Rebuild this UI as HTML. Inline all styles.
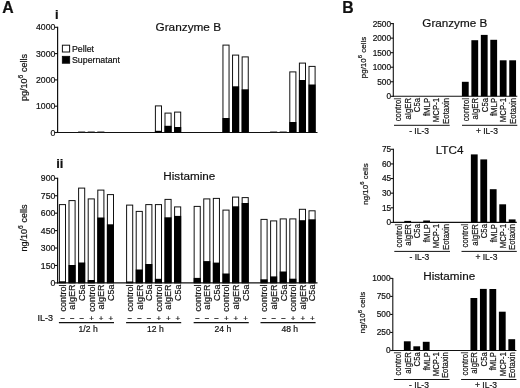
<!DOCTYPE html>
<html><head><meta charset="utf-8"><title>Figure</title>
<style>
html,body{margin:0;padding:0;background:#fff;}
body{width:520px;height:388px;overflow:hidden;font-family:'Liberation Sans', sans-serif;}
svg{display:block;filter:blur(0.45px);}
svg text{font-family:'Liberation Sans', sans-serif;fill:#111;stroke:#111;stroke-width:0.2px;}
</style></head>
<body>
<svg width="520" height="388" viewBox="0 0 520 388">
<rect x="0" y="0" width="520" height="388" fill="#fff"/>
<text x="2.30" y="13.40" font-size="15.8" text-anchor="start" font-weight="bold">A</text>
<text x="55.10" y="18.50" font-size="13" text-anchor="start" font-weight="bold">i</text>
<text x="56.20" y="167.60" font-size="13" text-anchor="start" font-weight="bold">ii</text>
<line x1="57.60" y1="26.80" x2="57.60" y2="133.00" stroke="#111" stroke-width="1.2"/>
<line x1="57.10" y1="132.50" x2="317.50" y2="132.50" stroke="#111" stroke-width="1.2"/>
<line x1="54.60" y1="27.30" x2="57.60" y2="27.30" stroke="#111" stroke-width="1.1"/>
<text x="55.30" y="30.40" font-size="8.7" text-anchor="end" font-weight="normal">4000</text>
<line x1="54.60" y1="53.60" x2="57.60" y2="53.60" stroke="#111" stroke-width="1.1"/>
<text x="55.30" y="56.70" font-size="8.7" text-anchor="end" font-weight="normal">3000</text>
<line x1="54.60" y1="79.90" x2="57.60" y2="79.90" stroke="#111" stroke-width="1.1"/>
<text x="55.30" y="83.00" font-size="8.7" text-anchor="end" font-weight="normal">2000</text>
<line x1="54.60" y1="106.20" x2="57.60" y2="106.20" stroke="#111" stroke-width="1.1"/>
<text x="55.30" y="109.30" font-size="8.7" text-anchor="end" font-weight="normal">1000</text>
<line x1="54.60" y1="132.50" x2="57.60" y2="132.50" stroke="#111" stroke-width="1.1"/>
<text x="55.30" y="135.60" font-size="8.7" text-anchor="end" font-weight="normal">0</text>
<text x="26.80" y="77.50" font-size="9.0" text-anchor="middle" font-weight="normal" transform="rotate(-90 26.80 77.50)">pg/10<tspan dy="-4.0" font-size="6.8">6</tspan><tspan dy="4.0"> cells</tspan></text>
<text x="188.30" y="30.90" font-size="11.8" text-anchor="middle" font-weight="normal">Granzyme B</text>
<rect x="62.40" y="45.20" width="7.20" height="6.80" fill="#fff" stroke="#111" stroke-width="1.0"/>
<rect x="62.40" y="56.40" width="7.20" height="6.80" fill="#000" stroke="#111" stroke-width="1.0"/>
<text x="72.00" y="51.90" font-size="8.8" text-anchor="start" font-weight="normal">Pellet</text>
<text x="72.00" y="62.90" font-size="8.8" text-anchor="start" font-weight="normal">Supernatant</text>
<rect x="155.40" y="105.90" width="6.10" height="26.60" fill="#fff" stroke="#111" stroke-width="1.0"/>
<rect x="154.90" y="130.80" width="7.10" height="1.70" fill="#000"/>
<rect x="165.00" y="113.10" width="6.10" height="19.40" fill="#fff" stroke="#111" stroke-width="1.0"/>
<rect x="164.50" y="125.80" width="7.10" height="6.70" fill="#000"/>
<rect x="174.60" y="112.10" width="6.10" height="20.40" fill="#fff" stroke="#111" stroke-width="1.0"/>
<rect x="174.10" y="127.00" width="7.10" height="5.50" fill="#000"/>
<rect x="222.95" y="45.10" width="6.10" height="87.40" fill="#fff" stroke="#111" stroke-width="1.0"/>
<rect x="222.45" y="118.00" width="7.10" height="14.50" fill="#000"/>
<rect x="232.55" y="55.10" width="6.10" height="77.40" fill="#fff" stroke="#111" stroke-width="1.0"/>
<rect x="232.05" y="86.30" width="7.10" height="46.20" fill="#000"/>
<rect x="242.15" y="56.90" width="6.10" height="75.60" fill="#fff" stroke="#111" stroke-width="1.0"/>
<rect x="241.65" y="89.30" width="7.10" height="43.20" fill="#000"/>
<rect x="289.80" y="71.90" width="6.10" height="60.60" fill="#fff" stroke="#111" stroke-width="1.0"/>
<rect x="289.30" y="122.00" width="7.10" height="10.50" fill="#000"/>
<rect x="299.40" y="63.10" width="6.10" height="69.40" fill="#fff" stroke="#111" stroke-width="1.0"/>
<rect x="298.90" y="80.00" width="7.10" height="52.50" fill="#000"/>
<rect x="309.00" y="66.40" width="6.10" height="66.10" fill="#fff" stroke="#111" stroke-width="1.0"/>
<rect x="308.50" y="84.50" width="7.10" height="48.00" fill="#000"/>
<rect x="78.10" y="131.30" width="7.1" height="1.2" fill="#222" opacity="0.7"/>
<rect x="87.70" y="131.30" width="7.1" height="1.2" fill="#222" opacity="0.7"/>
<rect x="97.30" y="131.30" width="7.1" height="1.2" fill="#222" opacity="0.7"/>
<rect x="270.10" y="131.30" width="7.1" height="1.2" fill="#222" opacity="0.7"/>
<rect x="279.70" y="131.30" width="7.1" height="1.2" fill="#222" opacity="0.7"/>
<line x1="57.60" y1="177.80" x2="57.60" y2="283.40" stroke="#111" stroke-width="1.2"/>
<line x1="57.10" y1="282.90" x2="317.50" y2="282.90" stroke="#111" stroke-width="1.2"/>
<line x1="54.60" y1="178.30" x2="57.60" y2="178.30" stroke="#111" stroke-width="1.1"/>
<text x="55.30" y="181.40" font-size="8.7" text-anchor="end" font-weight="normal">900</text>
<line x1="54.60" y1="195.73" x2="57.60" y2="195.73" stroke="#111" stroke-width="1.1"/>
<text x="55.30" y="198.83" font-size="8.7" text-anchor="end" font-weight="normal">750</text>
<line x1="54.60" y1="213.17" x2="57.60" y2="213.17" stroke="#111" stroke-width="1.1"/>
<text x="55.30" y="216.27" font-size="8.7" text-anchor="end" font-weight="normal">600</text>
<line x1="54.60" y1="230.60" x2="57.60" y2="230.60" stroke="#111" stroke-width="1.1"/>
<text x="55.30" y="233.70" font-size="8.7" text-anchor="end" font-weight="normal">450</text>
<line x1="54.60" y1="248.03" x2="57.60" y2="248.03" stroke="#111" stroke-width="1.1"/>
<text x="55.30" y="251.13" font-size="8.7" text-anchor="end" font-weight="normal">300</text>
<line x1="54.60" y1="265.47" x2="57.60" y2="265.47" stroke="#111" stroke-width="1.1"/>
<text x="55.30" y="268.57" font-size="8.7" text-anchor="end" font-weight="normal">150</text>
<line x1="54.60" y1="282.90" x2="57.60" y2="282.90" stroke="#111" stroke-width="1.1"/>
<text x="55.30" y="286.00" font-size="8.7" text-anchor="end" font-weight="normal">0</text>
<text x="26.80" y="228.00" font-size="9.0" text-anchor="middle" font-weight="normal" transform="rotate(-90 26.80 228.00)">ng/10<tspan dy="-4.0" font-size="6.8">6</tspan><tspan dy="4.0"> cells</tspan></text>
<text x="189.30" y="179.60" font-size="11.7" text-anchor="middle" font-weight="normal">Histamine</text>
<rect x="59.40" y="204.60" width="6.10" height="78.30" fill="#fff" stroke="#111" stroke-width="1.0"/>
<rect x="58.90" y="281.30" width="7.10" height="1.60" fill="#000"/>
<text x="65.85" y="284.60" font-size="9.0" text-anchor="end" font-weight="normal" transform="rotate(-90 65.85 284.60)">control</text>
<text x="62.75" y="320.90" font-size="8" text-anchor="middle" font-weight="normal">&#8722;</text>
<rect x="69.00" y="200.60" width="6.10" height="82.30" fill="#fff" stroke="#111" stroke-width="1.0"/>
<rect x="68.50" y="265.00" width="7.10" height="17.90" fill="#000"/>
<text x="75.45" y="284.60" font-size="9.0" text-anchor="end" font-weight="normal" transform="rotate(-90 75.45 284.60)">aIgER</text>
<text x="72.35" y="320.90" font-size="8" text-anchor="middle" font-weight="normal">&#8722;</text>
<rect x="78.60" y="188.10" width="6.10" height="94.80" fill="#fff" stroke="#111" stroke-width="1.0"/>
<rect x="78.10" y="262.50" width="7.10" height="20.40" fill="#000"/>
<text x="85.05" y="284.60" font-size="9.0" text-anchor="end" font-weight="normal" transform="rotate(-90 85.05 284.60)">C5a</text>
<text x="81.95" y="320.90" font-size="8" text-anchor="middle" font-weight="normal">&#8722;</text>
<rect x="88.20" y="198.90" width="6.10" height="84.00" fill="#fff" stroke="#111" stroke-width="1.0"/>
<rect x="87.70" y="280.00" width="7.10" height="2.90" fill="#000"/>
<text x="94.65" y="284.60" font-size="9.0" text-anchor="end" font-weight="normal" transform="rotate(-90 94.65 284.60)">control</text>
<text x="91.55" y="320.90" font-size="8" text-anchor="middle" font-weight="normal">+</text>
<rect x="97.80" y="190.10" width="6.10" height="92.80" fill="#fff" stroke="#111" stroke-width="1.0"/>
<rect x="97.30" y="217.50" width="7.10" height="65.40" fill="#000"/>
<text x="104.25" y="284.60" font-size="9.0" text-anchor="end" font-weight="normal" transform="rotate(-90 104.25 284.60)">aIgER</text>
<text x="101.15" y="320.90" font-size="8" text-anchor="middle" font-weight="normal">+</text>
<rect x="107.40" y="194.60" width="6.10" height="88.30" fill="#fff" stroke="#111" stroke-width="1.0"/>
<rect x="106.90" y="224.30" width="7.10" height="58.60" fill="#000"/>
<text x="113.85" y="284.60" font-size="9.0" text-anchor="end" font-weight="normal" transform="rotate(-90 113.85 284.60)">C5a</text>
<text x="110.75" y="320.90" font-size="8" text-anchor="middle" font-weight="normal">+</text>
<line x1="58.90" y1="322.60" x2="114.00" y2="322.60" stroke="#111" stroke-width="1.1"/>
<text x="88.15" y="332.30" font-size="8.6" text-anchor="middle" font-weight="normal">1/2 h</text>
<rect x="126.60" y="205.10" width="6.10" height="77.80" fill="#fff" stroke="#111" stroke-width="1.0"/>
<rect x="126.10" y="281.50" width="7.10" height="1.40" fill="#000"/>
<text x="133.05" y="284.60" font-size="9.0" text-anchor="end" font-weight="normal" transform="rotate(-90 133.05 284.60)">control</text>
<text x="129.95" y="320.90" font-size="8" text-anchor="middle" font-weight="normal">&#8722;</text>
<rect x="136.20" y="211.40" width="6.10" height="71.50" fill="#fff" stroke="#111" stroke-width="1.0"/>
<rect x="135.70" y="269.50" width="7.10" height="13.40" fill="#000"/>
<text x="142.65" y="284.60" font-size="9.0" text-anchor="end" font-weight="normal" transform="rotate(-90 142.65 284.60)">aIgER</text>
<text x="139.55" y="320.90" font-size="8" text-anchor="middle" font-weight="normal">&#8722;</text>
<rect x="145.80" y="204.60" width="6.10" height="78.30" fill="#fff" stroke="#111" stroke-width="1.0"/>
<rect x="145.30" y="264.00" width="7.10" height="18.90" fill="#000"/>
<text x="152.25" y="284.60" font-size="9.0" text-anchor="end" font-weight="normal" transform="rotate(-90 152.25 284.60)">C5a</text>
<text x="149.15" y="320.90" font-size="8" text-anchor="middle" font-weight="normal">&#8722;</text>
<rect x="155.40" y="204.60" width="6.10" height="78.30" fill="#fff" stroke="#111" stroke-width="1.0"/>
<rect x="154.90" y="278.80" width="7.10" height="4.10" fill="#000"/>
<text x="161.85" y="284.60" font-size="9.0" text-anchor="end" font-weight="normal" transform="rotate(-90 161.85 284.60)">control</text>
<text x="158.75" y="320.90" font-size="8" text-anchor="middle" font-weight="normal">+</text>
<rect x="165.00" y="199.40" width="6.10" height="83.50" fill="#fff" stroke="#111" stroke-width="1.0"/>
<rect x="164.50" y="217.30" width="7.10" height="65.60" fill="#000"/>
<text x="171.45" y="284.60" font-size="9.0" text-anchor="end" font-weight="normal" transform="rotate(-90 171.45 284.60)">aIgER</text>
<text x="168.35" y="320.90" font-size="8" text-anchor="middle" font-weight="normal">+</text>
<rect x="174.60" y="206.90" width="6.10" height="76.00" fill="#fff" stroke="#111" stroke-width="1.0"/>
<rect x="174.10" y="215.90" width="7.10" height="67.00" fill="#000"/>
<text x="181.05" y="284.60" font-size="9.0" text-anchor="end" font-weight="normal" transform="rotate(-90 181.05 284.60)">C5a</text>
<text x="177.95" y="320.90" font-size="8" text-anchor="middle" font-weight="normal">+</text>
<line x1="126.10" y1="322.60" x2="181.20" y2="322.60" stroke="#111" stroke-width="1.1"/>
<text x="155.35" y="332.30" font-size="8.6" text-anchor="middle" font-weight="normal">12 h</text>
<rect x="194.15" y="206.40" width="6.10" height="76.50" fill="#fff" stroke="#111" stroke-width="1.0"/>
<rect x="193.65" y="277.90" width="7.10" height="5.00" fill="#000"/>
<text x="200.60" y="284.60" font-size="9.0" text-anchor="end" font-weight="normal" transform="rotate(-90 200.60 284.60)">control</text>
<text x="197.50" y="320.90" font-size="8" text-anchor="middle" font-weight="normal">&#8722;</text>
<rect x="203.75" y="198.90" width="6.10" height="84.00" fill="#fff" stroke="#111" stroke-width="1.0"/>
<rect x="203.25" y="261.10" width="7.10" height="21.80" fill="#000"/>
<text x="210.20" y="284.60" font-size="9.0" text-anchor="end" font-weight="normal" transform="rotate(-90 210.20 284.60)">aIgER</text>
<text x="207.10" y="320.90" font-size="8" text-anchor="middle" font-weight="normal">&#8722;</text>
<rect x="213.35" y="198.40" width="6.10" height="84.50" fill="#fff" stroke="#111" stroke-width="1.0"/>
<rect x="212.85" y="262.60" width="7.10" height="20.30" fill="#000"/>
<text x="219.80" y="284.60" font-size="9.0" text-anchor="end" font-weight="normal" transform="rotate(-90 219.80 284.60)">C5a</text>
<text x="216.70" y="320.90" font-size="8" text-anchor="middle" font-weight="normal">&#8722;</text>
<rect x="222.95" y="210.10" width="6.10" height="72.80" fill="#fff" stroke="#111" stroke-width="1.0"/>
<rect x="222.45" y="273.50" width="7.10" height="9.40" fill="#000"/>
<text x="229.40" y="284.60" font-size="9.0" text-anchor="end" font-weight="normal" transform="rotate(-90 229.40 284.60)">control</text>
<text x="226.30" y="320.90" font-size="8" text-anchor="middle" font-weight="normal">+</text>
<rect x="232.55" y="197.10" width="6.10" height="85.80" fill="#fff" stroke="#111" stroke-width="1.0"/>
<rect x="232.05" y="206.30" width="7.10" height="76.60" fill="#000"/>
<text x="239.00" y="284.60" font-size="9.0" text-anchor="end" font-weight="normal" transform="rotate(-90 239.00 284.60)">aIgER</text>
<text x="235.90" y="320.90" font-size="8" text-anchor="middle" font-weight="normal">+</text>
<rect x="242.15" y="197.60" width="6.10" height="85.30" fill="#fff" stroke="#111" stroke-width="1.0"/>
<rect x="241.65" y="203.00" width="7.10" height="79.90" fill="#000"/>
<text x="248.60" y="284.60" font-size="9.0" text-anchor="end" font-weight="normal" transform="rotate(-90 248.60 284.60)">C5a</text>
<text x="245.50" y="320.90" font-size="8" text-anchor="middle" font-weight="normal">+</text>
<line x1="193.65" y1="322.60" x2="248.75" y2="322.60" stroke="#111" stroke-width="1.1"/>
<text x="222.90" y="332.30" font-size="8.6" text-anchor="middle" font-weight="normal">24 h</text>
<rect x="261.00" y="219.40" width="6.10" height="63.50" fill="#fff" stroke="#111" stroke-width="1.0"/>
<rect x="260.50" y="279.30" width="7.10" height="3.60" fill="#000"/>
<text x="267.45" y="284.60" font-size="9.0" text-anchor="end" font-weight="normal" transform="rotate(-90 267.45 284.60)">control</text>
<text x="264.35" y="320.90" font-size="8" text-anchor="middle" font-weight="normal">&#8722;</text>
<rect x="270.60" y="220.90" width="6.10" height="62.00" fill="#fff" stroke="#111" stroke-width="1.0"/>
<rect x="270.10" y="276.40" width="7.10" height="6.50" fill="#000"/>
<text x="277.05" y="284.60" font-size="9.0" text-anchor="end" font-weight="normal" transform="rotate(-90 277.05 284.60)">aIgER</text>
<text x="273.95" y="320.90" font-size="8" text-anchor="middle" font-weight="normal">&#8722;</text>
<rect x="280.20" y="218.90" width="6.10" height="64.00" fill="#fff" stroke="#111" stroke-width="1.0"/>
<rect x="279.70" y="271.50" width="7.10" height="11.40" fill="#000"/>
<text x="286.65" y="284.60" font-size="9.0" text-anchor="end" font-weight="normal" transform="rotate(-90 286.65 284.60)">C5a</text>
<text x="283.55" y="320.90" font-size="8" text-anchor="middle" font-weight="normal">&#8722;</text>
<rect x="289.80" y="218.90" width="6.10" height="64.00" fill="#fff" stroke="#111" stroke-width="1.0"/>
<rect x="289.30" y="278.70" width="7.10" height="4.20" fill="#000"/>
<text x="296.25" y="284.60" font-size="9.0" text-anchor="end" font-weight="normal" transform="rotate(-90 296.25 284.60)">control</text>
<text x="293.15" y="320.90" font-size="8" text-anchor="middle" font-weight="normal">+</text>
<rect x="299.40" y="209.30" width="6.10" height="73.60" fill="#fff" stroke="#111" stroke-width="1.0"/>
<rect x="298.90" y="220.20" width="7.10" height="62.70" fill="#000"/>
<text x="305.85" y="284.60" font-size="9.0" text-anchor="end" font-weight="normal" transform="rotate(-90 305.85 284.60)">aIgER</text>
<text x="302.75" y="320.90" font-size="8" text-anchor="middle" font-weight="normal">+</text>
<rect x="309.00" y="210.80" width="6.10" height="72.10" fill="#fff" stroke="#111" stroke-width="1.0"/>
<rect x="308.50" y="219.30" width="7.10" height="63.60" fill="#000"/>
<text x="315.45" y="284.60" font-size="9.0" text-anchor="end" font-weight="normal" transform="rotate(-90 315.45 284.60)">C5a</text>
<text x="312.35" y="320.90" font-size="8" text-anchor="middle" font-weight="normal">+</text>
<line x1="260.50" y1="322.60" x2="315.60" y2="322.60" stroke="#111" stroke-width="1.1"/>
<text x="289.75" y="332.30" font-size="8.6" text-anchor="middle" font-weight="normal">48 h</text>
<text x="37.60" y="320.80" font-size="9.0" text-anchor="start" font-weight="normal">IL-3</text>
<text x="342.20" y="12.80" font-size="15.8" text-anchor="start" font-weight="bold">B</text>
<line x1="393.30" y1="23.10" x2="393.30" y2="96.80" stroke="#111" stroke-width="1.1"/>
<line x1="392.80" y1="96.30" x2="517.30" y2="96.30" stroke="#111" stroke-width="1.1"/>
<line x1="390.70" y1="23.60" x2="393.30" y2="23.60" stroke="#111" stroke-width="1.1"/>
<text x="391.10" y="26.55" font-size="8.3" text-anchor="end" font-weight="normal">2500</text>
<line x1="390.70" y1="38.14" x2="393.30" y2="38.14" stroke="#111" stroke-width="1.1"/>
<text x="391.10" y="41.09" font-size="8.3" text-anchor="end" font-weight="normal">2000</text>
<line x1="390.70" y1="52.68" x2="393.30" y2="52.68" stroke="#111" stroke-width="1.1"/>
<text x="391.10" y="55.63" font-size="8.3" text-anchor="end" font-weight="normal">1500</text>
<line x1="390.70" y1="67.22" x2="393.30" y2="67.22" stroke="#111" stroke-width="1.1"/>
<text x="391.10" y="70.17" font-size="8.3" text-anchor="end" font-weight="normal">1000</text>
<line x1="390.70" y1="81.76" x2="393.30" y2="81.76" stroke="#111" stroke-width="1.1"/>
<text x="391.10" y="84.71" font-size="8.3" text-anchor="end" font-weight="normal">500</text>
<line x1="390.70" y1="96.30" x2="393.30" y2="96.30" stroke="#111" stroke-width="1.1"/>
<text x="391.10" y="99.25" font-size="8.3" text-anchor="end" font-weight="normal">0</text>
<text x="365.80" y="57.50" font-size="7.95" text-anchor="middle" font-weight="normal" transform="rotate(-90 365.80 57.50)">pg/10<tspan dy="-3.5" font-size="6.0">6</tspan><tspan dy="3.5"> cells</tspan></text>
<text x="422.30" y="27.40" font-size="11.7" text-anchor="start" font-weight="normal">Granzyme B</text>
<text transform="translate(401.20 97.90) rotate(-90) scale(0.83 1)" font-size="9.4" text-anchor="end">control</text>
<text transform="translate(410.67 97.90) rotate(-90) scale(0.83 1)" font-size="9.4" text-anchor="end">aIgER</text>
<text transform="translate(420.14 97.90) rotate(-90) scale(0.83 1)" font-size="9.4" text-anchor="end">C5a</text>
<text transform="translate(429.61 97.90) rotate(-90) scale(0.83 1)" font-size="9.4" text-anchor="end">fMLP</text>
<text transform="translate(439.08 97.90) rotate(-90) scale(0.83 1)" font-size="9.4" text-anchor="end">MCP-1</text>
<text transform="translate(448.55 97.90) rotate(-90) scale(0.83 1)" font-size="9.4" text-anchor="end">Eotaxin</text>
<rect x="461.90" y="81.80" width="6.8" height="14.50" fill="#000"/>
<text transform="translate(468.60 97.90) rotate(-90) scale(0.83 1)" font-size="9.4" text-anchor="end">control</text>
<rect x="471.37" y="40.20" width="6.8" height="56.10" fill="#000"/>
<text transform="translate(478.07 97.90) rotate(-90) scale(0.83 1)" font-size="9.4" text-anchor="end">aIgER</text>
<rect x="480.84" y="34.90" width="6.8" height="61.40" fill="#000"/>
<text transform="translate(487.54 97.90) rotate(-90) scale(0.83 1)" font-size="9.4" text-anchor="end">C5a</text>
<rect x="490.31" y="39.80" width="6.8" height="56.50" fill="#000"/>
<text transform="translate(497.01 97.90) rotate(-90) scale(0.83 1)" font-size="9.4" text-anchor="end">fMLP</text>
<rect x="499.78" y="60.30" width="6.8" height="36.00" fill="#000"/>
<text transform="translate(506.48 97.90) rotate(-90) scale(0.83 1)" font-size="9.4" text-anchor="end">MCP-1</text>
<rect x="509.25" y="60.30" width="6.8" height="36.00" fill="#000"/>
<text transform="translate(515.95 97.90) rotate(-90) scale(0.83 1)" font-size="9.4" text-anchor="end">Eotaxin</text>
<line x1="394.00" y1="125.30" x2="449.70" y2="125.30" stroke="#111" stroke-width="1.0"/>
<line x1="462.00" y1="125.30" x2="517.30" y2="125.30" stroke="#111" stroke-width="1.0"/>
<text x="419.10" y="134.20" font-size="8.5" text-anchor="middle" font-weight="normal">- IL-3</text>
<text x="486.90" y="134.20" font-size="8.5" text-anchor="middle" font-weight="normal">+ IL-3</text>
<line x1="393.40" y1="148.80" x2="393.40" y2="222.90" stroke="#111" stroke-width="1.1"/>
<line x1="392.90" y1="222.40" x2="516.80" y2="222.40" stroke="#111" stroke-width="1.1"/>
<line x1="390.80" y1="149.30" x2="393.40" y2="149.30" stroke="#111" stroke-width="1.1"/>
<text x="391.20" y="152.25" font-size="8.3" text-anchor="end" font-weight="normal">75</text>
<line x1="390.80" y1="163.92" x2="393.40" y2="163.92" stroke="#111" stroke-width="1.1"/>
<text x="391.20" y="166.87" font-size="8.3" text-anchor="end" font-weight="normal">60</text>
<line x1="390.80" y1="178.54" x2="393.40" y2="178.54" stroke="#111" stroke-width="1.1"/>
<text x="391.20" y="181.49" font-size="8.3" text-anchor="end" font-weight="normal">45</text>
<line x1="390.80" y1="193.16" x2="393.40" y2="193.16" stroke="#111" stroke-width="1.1"/>
<text x="391.20" y="196.11" font-size="8.3" text-anchor="end" font-weight="normal">30</text>
<line x1="390.80" y1="207.78" x2="393.40" y2="207.78" stroke="#111" stroke-width="1.1"/>
<text x="391.20" y="210.73" font-size="8.3" text-anchor="end" font-weight="normal">15</text>
<line x1="390.80" y1="222.40" x2="393.40" y2="222.40" stroke="#111" stroke-width="1.1"/>
<text x="391.20" y="225.35" font-size="8.3" text-anchor="end" font-weight="normal">0</text>
<text x="367.80" y="184.00" font-size="7.95" text-anchor="middle" font-weight="normal" transform="rotate(-90 367.80 184.00)">ng/10<tspan dy="-3.5" font-size="6.0">6</tspan><tspan dy="3.5"> cells</tspan></text>
<text x="435.70" y="153.60" font-size="11.7" text-anchor="start" font-weight="normal">LTC4</text>
<text transform="translate(401.50 224.00) rotate(-90) scale(0.83 1)" font-size="9.4" text-anchor="end">control</text>
<rect x="404.27" y="220.90" width="6.8" height="1.50" fill="#000"/>
<text transform="translate(410.97 224.00) rotate(-90) scale(0.83 1)" font-size="9.4" text-anchor="end">aIgER</text>
<text transform="translate(420.44 224.00) rotate(-90) scale(0.83 1)" font-size="9.4" text-anchor="end">C5a</text>
<rect x="423.21" y="220.50" width="6.8" height="1.90" fill="#000"/>
<text transform="translate(429.91 224.00) rotate(-90) scale(0.83 1)" font-size="9.4" text-anchor="end">fMLP</text>
<text transform="translate(439.38 224.00) rotate(-90) scale(0.83 1)" font-size="9.4" text-anchor="end">MCP-1</text>
<text transform="translate(448.85 224.00) rotate(-90) scale(0.83 1)" font-size="9.4" text-anchor="end">Eotaxin</text>
<text transform="translate(468.10 224.00) rotate(-90) scale(0.83 1)" font-size="9.4" text-anchor="end">control</text>
<rect x="470.87" y="154.40" width="6.8" height="68.00" fill="#000"/>
<text transform="translate(477.57 224.00) rotate(-90) scale(0.83 1)" font-size="9.4" text-anchor="end">aIgER</text>
<rect x="480.34" y="159.40" width="6.8" height="63.00" fill="#000"/>
<text transform="translate(487.04 224.00) rotate(-90) scale(0.83 1)" font-size="9.4" text-anchor="end">C5a</text>
<rect x="489.81" y="189.20" width="6.8" height="33.20" fill="#000"/>
<text transform="translate(496.51 224.00) rotate(-90) scale(0.83 1)" font-size="9.4" text-anchor="end">fMLP</text>
<rect x="499.28" y="204.30" width="6.8" height="18.10" fill="#000"/>
<text transform="translate(505.98 224.00) rotate(-90) scale(0.83 1)" font-size="9.4" text-anchor="end">MCP-1</text>
<rect x="508.75" y="219.40" width="6.8" height="3.00" fill="#000"/>
<text transform="translate(515.45 224.00) rotate(-90) scale(0.83 1)" font-size="9.4" text-anchor="end">Eotaxin</text>
<line x1="394.30" y1="251.40" x2="450.00" y2="251.40" stroke="#111" stroke-width="1.0"/>
<line x1="461.50" y1="251.40" x2="516.80" y2="251.40" stroke="#111" stroke-width="1.0"/>
<text x="419.40" y="260.30" font-size="8.5" text-anchor="middle" font-weight="normal">- IL-3</text>
<text x="486.40" y="260.30" font-size="8.5" text-anchor="middle" font-weight="normal">+ IL-3</text>
<line x1="392.80" y1="277.90" x2="392.80" y2="351.00" stroke="#111" stroke-width="1.1"/>
<line x1="392.30" y1="350.50" x2="516.40" y2="350.50" stroke="#111" stroke-width="1.1"/>
<line x1="390.20" y1="278.40" x2="392.80" y2="278.40" stroke="#111" stroke-width="1.1"/>
<text x="390.60" y="281.35" font-size="8.3" text-anchor="end" font-weight="normal">1000</text>
<line x1="390.20" y1="296.42" x2="392.80" y2="296.42" stroke="#111" stroke-width="1.1"/>
<text x="390.60" y="299.37" font-size="8.3" text-anchor="end" font-weight="normal">750</text>
<line x1="390.20" y1="314.45" x2="392.80" y2="314.45" stroke="#111" stroke-width="1.1"/>
<text x="390.60" y="317.40" font-size="8.3" text-anchor="end" font-weight="normal">500</text>
<line x1="390.20" y1="332.48" x2="392.80" y2="332.48" stroke="#111" stroke-width="1.1"/>
<text x="390.60" y="335.43" font-size="8.3" text-anchor="end" font-weight="normal">250</text>
<line x1="390.20" y1="350.50" x2="392.80" y2="350.50" stroke="#111" stroke-width="1.1"/>
<text x="390.60" y="353.45" font-size="8.3" text-anchor="end" font-weight="normal">0</text>
<text x="365.30" y="312.50" font-size="7.95" text-anchor="middle" font-weight="normal" transform="rotate(-90 365.30 312.50)">ng/10<tspan dy="-3.5" font-size="6.0">6</tspan><tspan dy="3.5"> cells</tspan></text>
<text x="423.20" y="280.00" font-size="11.7" text-anchor="start" font-weight="normal">Histamine</text>
<text transform="translate(401.10 352.10) rotate(-90) scale(0.83 1)" font-size="9.4" text-anchor="end">control</text>
<rect x="403.87" y="341.30" width="6.8" height="9.20" fill="#000"/>
<text transform="translate(410.57 352.10) rotate(-90) scale(0.83 1)" font-size="9.4" text-anchor="end">aIgER</text>
<rect x="413.34" y="346.30" width="6.8" height="4.20" fill="#000"/>
<text transform="translate(420.04 352.10) rotate(-90) scale(0.83 1)" font-size="9.4" text-anchor="end">C5a</text>
<rect x="422.81" y="341.80" width="6.8" height="8.70" fill="#000"/>
<text transform="translate(429.51 352.10) rotate(-90) scale(0.83 1)" font-size="9.4" text-anchor="end">fMLP</text>
<text transform="translate(438.98 352.10) rotate(-90) scale(0.83 1)" font-size="9.4" text-anchor="end">MCP-1</text>
<text transform="translate(448.45 352.10) rotate(-90) scale(0.83 1)" font-size="9.4" text-anchor="end">Eotaxin</text>
<text transform="translate(467.70 352.10) rotate(-90) scale(0.83 1)" font-size="9.4" text-anchor="end">control</text>
<rect x="470.47" y="298.00" width="6.8" height="52.50" fill="#000"/>
<text transform="translate(477.17 352.10) rotate(-90) scale(0.83 1)" font-size="9.4" text-anchor="end">aIgER</text>
<rect x="479.94" y="288.90" width="6.8" height="61.60" fill="#000"/>
<text transform="translate(486.64 352.10) rotate(-90) scale(0.83 1)" font-size="9.4" text-anchor="end">C5a</text>
<rect x="489.41" y="289.00" width="6.8" height="61.50" fill="#000"/>
<text transform="translate(496.11 352.10) rotate(-90) scale(0.83 1)" font-size="9.4" text-anchor="end">fMLP</text>
<rect x="498.88" y="311.70" width="6.8" height="38.80" fill="#000"/>
<text transform="translate(505.58 352.10) rotate(-90) scale(0.83 1)" font-size="9.4" text-anchor="end">MCP-1</text>
<rect x="508.35" y="339.20" width="6.8" height="11.30" fill="#000"/>
<text transform="translate(515.05 352.10) rotate(-90) scale(0.83 1)" font-size="9.4" text-anchor="end">Eotaxin</text>
<line x1="393.90" y1="379.50" x2="449.60" y2="379.50" stroke="#111" stroke-width="1.0"/>
<line x1="461.10" y1="379.50" x2="516.40" y2="379.50" stroke="#111" stroke-width="1.0"/>
<text x="419.00" y="388.40" font-size="8.5" text-anchor="middle" font-weight="normal">- IL-3</text>
<text x="486.00" y="388.40" font-size="8.5" text-anchor="middle" font-weight="normal">+ IL-3</text>
</svg>
</body></html>
